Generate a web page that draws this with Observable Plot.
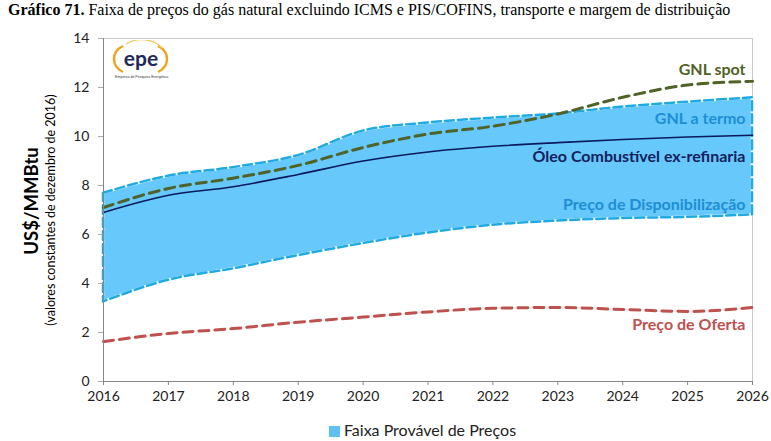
<!DOCTYPE html>
<html><head><meta charset="utf-8">
<script src="https://cdn.jsdelivr.net/npm/d3@7"></script>
<script src="https://cdn.jsdelivr.net/npm/@observablehq/plot@0.6"></script>
<style>
body{margin:0;background:#fff;width:771px;height:441px;overflow:hidden;position:relative;font-family:Lato,"Open Sans",sans-serif}
#title{position:absolute;left:8px;top:1px;font-family:"Liberation Serif",serif;font-size:16px;color:#000;white-space:nowrap}
#chart{position:absolute;left:0;top:28px}
.ylab{position:absolute;transform:rotate(-90deg);transform-origin:center;white-space:nowrap;text-align:center;line-height:20px;height:20px}
#legend{position:absolute;top:420px;left:0;width:771px;text-align:center;font-size:16px;color:#222;padding-left:74px;box-sizing:border-box}
#legend span.sw{display:inline-block;width:11px;height:11px;background:#5ec1f2;margin-right:4px;vertical-align:-1px}
#logo{position:absolute;left:110px;top:40px}
</style></head><body>
<div id="title"><b>Gráfico 71.</b> Faixa de preços do gás natural excluindo ICMS e PIS/COFINS, transporte e margem de distribuição</div>
<div id="chart"></div>
<div class="ylab" style="left:-49px;top:191px;width:160px;font-weight:bold;font-size:18.5px;">US$/MMBtu</div>
<div class="ylab" style="left:-74px;top:200px;width:250px;font-size:12.5px;">(valores constantes de dezembro de 2016)</div>
<div id="legend"><span class="sw"></span>Faixa Provável de Preços</div>
<svg id="logo" width="64" height="42" viewBox="0 0 64 42">
  <path d="M13 6 A18 15 0 0 0 13 32" fill="none" stroke="#f0a21c" stroke-width="2.4"/>
  <path d="M48 6 A18 15 0 0 1 48 32" fill="none" stroke="#f0a21c" stroke-width="2.4"/>
  <path d="M16 4 A24 18 0 0 1 52 8" fill="none" stroke="#f7c65a" stroke-width="1.2"/>
  <text x="31" y="26" text-anchor="middle" font-family="Lato,sans-serif" font-weight="bold" font-size="21" fill="#1f2a5a">epe</text>
  <text x="5" y="38" font-family="sans-serif" font-size="3.6" fill="#333">Empresa de Pesquisa Energética</text>
</svg>
<script>
const years = [2016,2017,2018,2019,2020,2021,2022,2023,2024,2025,2026];
const gnlTermo = [7.68,8.38,8.73,9.22,10.22,10.55,10.75,10.92,11.2,11.4,11.58];
const disponibilizacao = [3.25,4.13,4.6,5.14,5.63,6.06,6.38,6.55,6.65,6.7,6.8];
const gnlSpot = [7.1,7.88,8.3,8.82,9.55,10.1,10.42,10.92,11.6,12.1,12.25];
const oleo = [6.9,7.6,7.95,8.45,9.0,9.37,9.6,9.75,9.88,9.98,10.05];
const oferta = [1.63,1.96,2.16,2.42,2.63,2.84,2.99,3.02,2.94,2.86,3.02];
const yTicks = [0,2,4,6,8,10,12,14];
const labelNames = ["GNL spot","GNL a termo","Óleo Combustível ex-refinaria","Preço de Disponibilização","Preço de Oferta"];
const labelValues = [12.7,10.7,9.18,7.22,2.33];
const labelColors = ["#4f6228","#1e8ed3","#14205e","#1e8ed3","#c0504d"];

const rows = years.map((y,i)=>({year:y,low:disponibilizacao[i],high:gnlTermo[i],spot:gnlSpot[i],oleo:oleo[i],oferta:oferta[i]}));
const labels = labelNames.map((n,i)=>({name:n,v:labelValues[i],c:labelColors[i],x:2026}));
const curve = "monotone-x";

const plot = Plot.plot({
  width:771, height:385,
  marginLeft:103, marginRight:19, marginTop:10, marginBottom:32,
  style:{fontFamily:"Lato, sans-serif", fontSize:"14px", color:"#333"},
  x:{domain:[2016,2026], ticks:years, tickFormat:"d", label:null},
  y:{domain:[0,14], ticks:yTicks, label:null},
  marks:[
    Plot.areaY(rows,{x:"year",y1:"low",y2:"high",fill:"#66c8fb",curve}),
    Plot.ruleY([14],{stroke:"#c8c8c8",strokeWidth:1}),
    Plot.ruleX([2026],{stroke:"#c8c8c8",strokeWidth:1}),
    Plot.areaY(rows,{x:"year",y1:"low",y2:"high",fill:"none",stroke:"#fff",strokeWidth:2.5,curve}),
    Plot.areaY(rows,{x:"year",y1:"low",y2:"high",fill:"none",stroke:"#1faae3",strokeWidth:2.5,strokeDasharray:"9,4",curve}),
    Plot.lineY(rows,{x:"year",y:"oleo",stroke:"#0a1a5c",strokeWidth:1.6,curve}),
    Plot.lineY(rows,{x:"year",y:"spot",stroke:"#4f6228",strokeWidth:3,strokeDasharray:"10,6",curve}),
    Plot.lineY(rows,{x:"year",y:"oferta",stroke:"#c0504d",strokeWidth:3,strokeDasharray:"10,6",curve}),
    Plot.ruleX([2016],{stroke:"#868686"}),
    Plot.ruleY([0],{stroke:"#868686"}),
    Plot.axisX({ticks:years,tickFormat:"d",tickSize:4,tickPadding:6,stroke:"#868686",fill:"#222",fontSize:14,label:null}),
    Plot.axisY({ticks:yTicks,tickSize:5,tickPadding:9,stroke:"#aaa",fill:"#222",fontSize:14,label:null}),
    Plot.text(labels,{x:"x",y:"v",text:"name",fill:"c",textAnchor:"end",dx:-7,fontWeight:"bold",fontSize:16})
  ]
});
document.getElementById("chart").appendChild(plot);
</script>
</body></html>
